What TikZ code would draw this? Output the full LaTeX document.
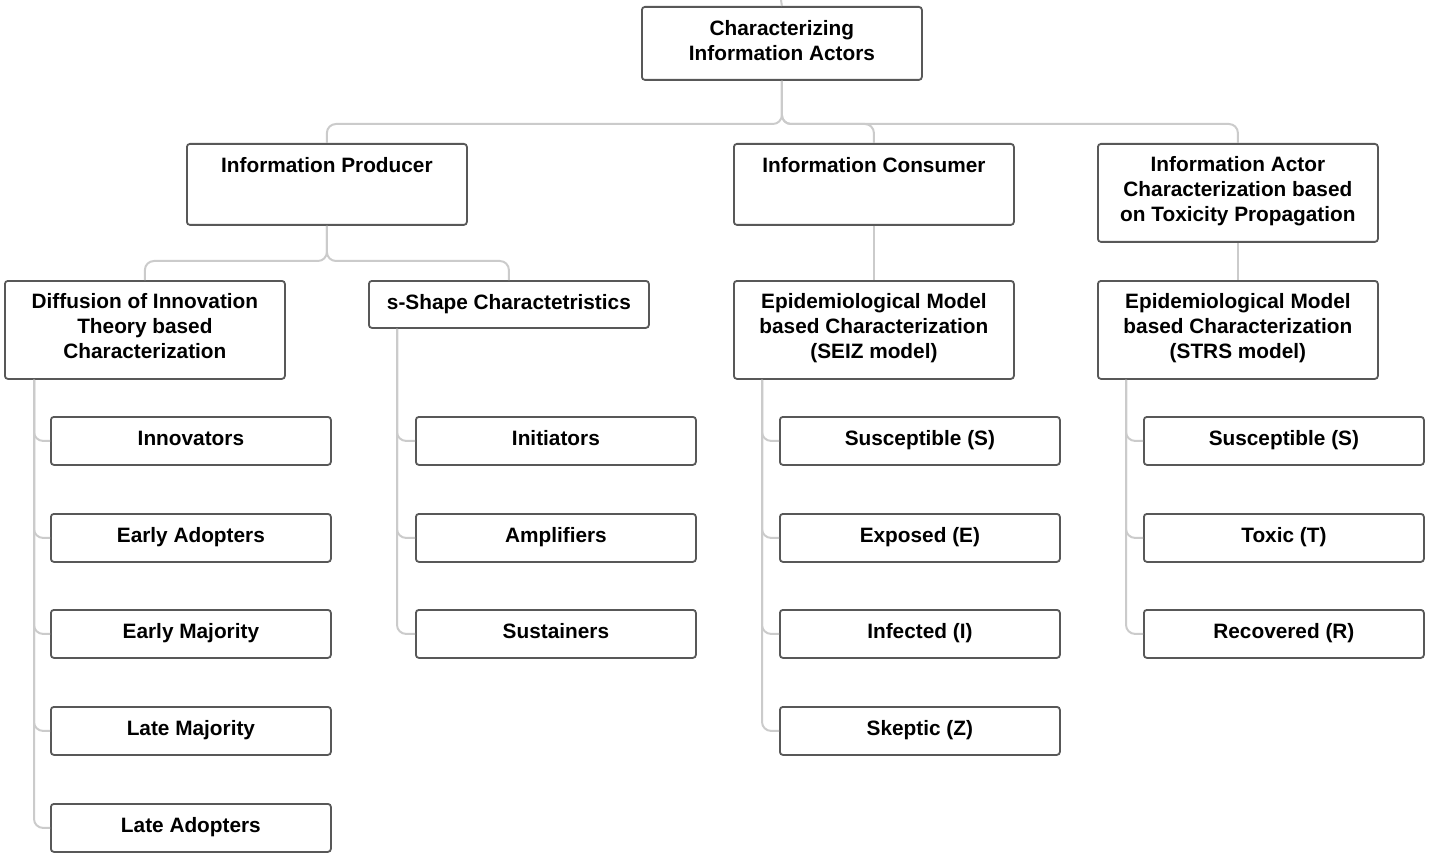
\documentclass[tikz,border=0pt]{standalone}
\usepackage{fontspec}
\setmainfont{Liberation Sans}
\begin{document}
\begin{tikzpicture}[x=1pt,y=-1pt,
  box/.style={draw=boxgray, line width=1.8pt, rounded corners=3pt, fill=white,
    minimum width=280pt, inner xsep=0pt, inner ysep=0pt, anchor=north west,
    align=center, font=\fontsize{20.8}{25}\selectfont\bfseries, text height=28.5pt},
  two/.style={text height=53.5pt},
  three/.style={text height=78pt},
  conn/.style={draw=linegray, line width=2pt, rounded corners=9pt},
]
\definecolor{boxgray}{HTML}{585858}
\definecolor{linegray}{HTML}{CBCBCB}
\useasboundingbox (0,0) rectangle (1430,861);

% level 0
\node[box, two, text depth=19.5pt] (root) at (641,6) {Characterizing\\Information Actors};
\coordinate (top) at (781,0);

% level 1
\node[box, text depth=52.5pt] (prod) at (186,143) {Information Producer};
\node[box, text depth=52.5pt] (cons) at (733,143) {Information Consumer};
\node[box, three, text depth=20pt] (actor) at (1097,143) {Information Actor\\Characterization based\\on Toxicity Propagation};

% level 2
\node[box, three, text depth=20pt] (diff) at (4,280) {Diffusion of Innovation\\Theory based\\Characterization};
\node[box, text depth=18.5pt] (sshape) at (368,280) {s-Shape Charactetristics};
\node[box, three, text depth=20pt] (seiz) at (733,280) {Epidemiological Model\\based Characterization\\(SEIZ model)};
\node[box, three, text depth=20pt] (strs) at (1097,280) {Epidemiological Model\\based Characterization\\(STRS model)};

% leaves: diffusion
\node[box, text depth=19.5pt] (inn) at (50,416) {Innovators};
\node[box, text depth=19.5pt] (eadopt) at (50,513) {Early Adopters};
\node[box, text depth=19.5pt] (emaj) at (50,609) {Early Majority};
\node[box, text depth=19.5pt] (lmaj) at (50,706) {Late Majority};
\node[box, text depth=19.5pt] (ladopt) at (50,803) {Late Adopters};

% leaves: s-shape
\node[box, text depth=19.5pt] (init) at (415,416) {Initiators};
\node[box, text depth=19.5pt] (ampl) at (415,513) {Amplifiers};
\node[box, text depth=19.5pt] (sust) at (415,609) {Sustainers};

% leaves: SEIZ
\node[box, text depth=19.5pt] (zs) at (779,416) {Susceptible (S)};
\node[box, text depth=19.5pt] (ze) at (779,513) {Exposed (E)};
\node[box, text depth=19.5pt] (zi) at (779,609) {Infected (I)};
\node[box, text depth=19.5pt] (zz) at (779,706) {Skeptic (Z)};

% leaves: STRS
\node[box, text depth=19.5pt] (ts) at (1143,416) {Susceptible (S)};
\node[box, text depth=19.5pt] (tt) at (1143,513) {Toxic (T)};
\node[box, text depth=19.5pt] (tr) at (1143,609) {Recovered (R)};

% connectors
\draw[conn] (root.north) -- (top);
\draw[conn] (root.south) -- (root.south |- 0,124) -| (prod.north);
\draw[conn] (root.south) -- (root.south |- 0,124) -| (cons.north);
\draw[conn] (root.south) -- (root.south |- 0,124) -| (actor.north);

\draw[conn] (prod.south) -- (prod.south |- 0,261) -| (diff.north);
\draw[conn] (prod.south) -- (prod.south |- 0,261) -| (sshape.north);
\draw[conn] (cons.south) -- (seiz.north);
\draw[conn] (actor.south) -- (strs.north);

\foreach \c in {inn,eadopt,emaj,lmaj,ladopt}
  \draw[conn] ([xshift=30pt]diff.south west) |- (\c.west);
\foreach \c in {init,ampl,sust}
  \draw[conn] ([xshift=29pt]sshape.south west) |- (\c.west);
\foreach \c in {zs,ze,zi,zz}
  \draw[conn] ([xshift=29pt]seiz.south west) |- (\c.west);
\foreach \c in {ts,tt,tr}
  \draw[conn] ([xshift=29pt]strs.south west) |- (\c.west);
\end{tikzpicture}
\end{document}
